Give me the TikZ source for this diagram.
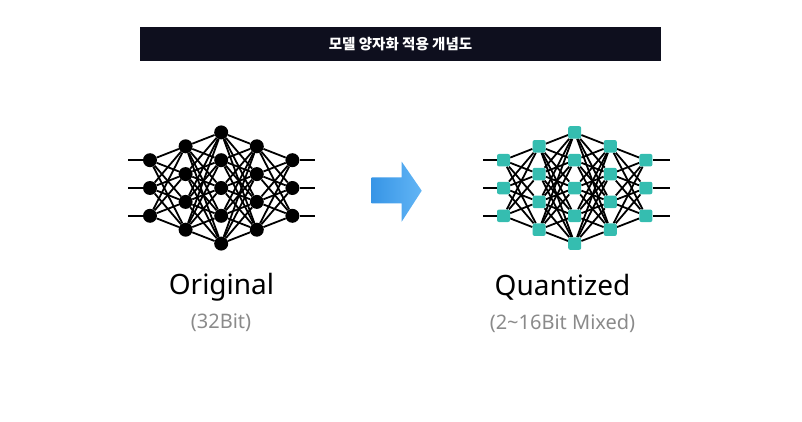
\documentclass[tikz,border=0pt]{standalone}
\usepackage{fontspec}
\setmainfont{Noto Sans}
\newfontfamily\krfont{Noto Sans CJK KR}
\usepackage{xcolor}
\usepackage{tikz}
\usetikzlibrary{backgrounds}
\definecolor{titlebg}{HTML}{0E0F1E}
\definecolor{quant}{HTML}{35BDB0}
\definecolor{arrowleft}{HTML}{3795E6}
\definecolor{arrowright}{HTML}{62B5F5}
\definecolor{subgray}{HTML}{8A8A8A}

\begin{document}
\begin{tikzpicture}[
        x=1pt, y=-1pt,
        neuron/.style={
            circle,
            fill=black,
            inner sep=0pt,
            minimum size=14pt
        },
        qneuron/.style={
            rectangle,
            rounded corners=2pt,
            fill=quant,
            inner sep=0pt,
            minimum width=13pt,
            minimum height=12.5pt
        },
        link/.style={
            line width=1.8pt,
            color=black
        },
        caption/.style={
            font=\fontsize{28}{32}\selectfont,
            text=black
        },
        subcaption/.style={
            font=\fontsize{20}{23}\selectfont,
            text=subgray
        }
    ]
        \useasboundingbox (0,0) rectangle (802,422);

        % title bar
        \node (title) [fill=titlebg, text=white, minimum width=521pt, minimum height=34pt,
            font=\krfont\bfseries\fontsize{14.5}{16}\selectfont] at (400.5,44) {모델 양자화 적용 개념도};

        % original network
        \foreach \l/\n in {1/3,2/4,3/5,4/4,5/3} {
            \foreach \i in {1,...,\n} {
                \node[neuron] (o-\l-\i) at ({150+(\l-1)*35.6}, {188+(\i-(\n+1)/2)*27.8}) {};
            }
        }
        \foreach \i in {1,2,3} {
            \coordinate (o-in-\i) at (128, {188+(\i-2)*27.8});
            \coordinate (o-out-\i) at (315, {188+(\i-2)*27.8});
        }

        % quantized network
        \foreach \l/\n in {1/3,2/4,3/5,4/4,5/3} {
            \foreach \i in {1,...,\n} {
                \node[qneuron] (q-\l-\i) at ({503.5+(\l-1)*35.6}, {188+(\i-(\n+1)/2)*27.8}) {};
            }
        }
        \foreach \i in {1,2,3} {
            \coordinate (q-in-\i) at (483, {188+(\i-2)*27.8});
            \coordinate (q-out-\i) at (670, {188+(\i-2)*27.8});
        }

        % connections
        \begin{scope}[on background layer]
            \foreach \net in {o,q} {
                \foreach \i in {1,2,3} {
                    \draw[link] (\net-in-\i) -- (\net-1-\i);
                    \draw[link] (\net-5-\i) -- (\net-out-\i);
                }
                \foreach \l/\k/\n/\m in {1/2/3/4,2/3/4/5,3/4/5/4,4/5/4/3} {
                    \foreach \i in {1,...,\n} {
                        \foreach \j in {1,...,\m} {
                            \draw[link] (\net-\l-\i) -- (\net-\k-\j);
                        }
                    }
                }
            }
        \end{scope}

        % arrow
        \shade[left color=arrowleft, right color=arrowright]
            (371.7,177.3) -- (401.7,177.3) -- (401.7,161.7) -- (421.7,190.7)
            -- (401.7,221.7) -- (401.7,203.3) -- (371.7,203.3) -- cycle;

        % captions
        \node[caption] (orig) at (221.5,287) {Original};
        \node[subcaption] (origbit) at (221,323) {(32Bit)};
        \node[caption] (quantized) at (562.5,287) {Quantized};
        \node[subcaption] (quantbit) at (562.5,323) {(2\textasciitilde 16Bit Mixed)};
    \end{tikzpicture}
\end{document}
